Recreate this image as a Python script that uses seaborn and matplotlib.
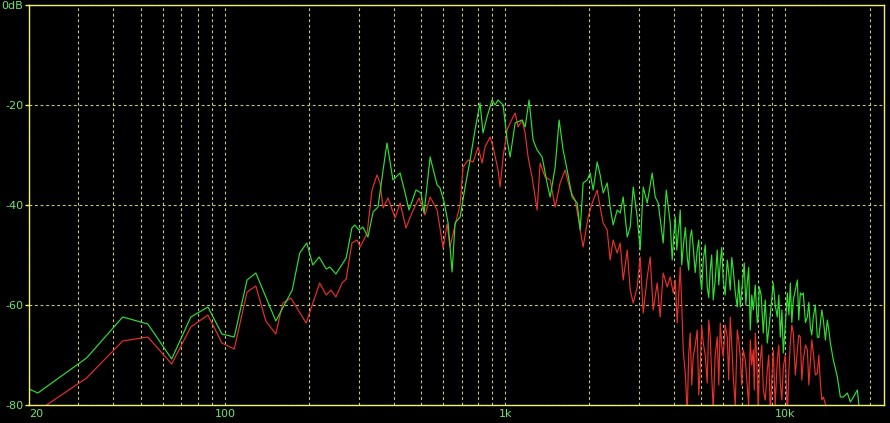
import numpy as np
import pandas as pd
import matplotlib
matplotlib.use("Agg")
import matplotlib.pyplot as plt
import seaborn as sns

# frequency (Hz) / level (dB)
freq_green = [20, 21.5, 32.1, 43.2, 53.1, 64.6, 75.6, 87.0, 97.6, 108, 120, 129, 152, 174,
              185, 196, 206, 217, 230, 237, 249, 271, 284, 291, 301, 311, 324, 338, 352, 367,
              379, 398, 422, 439, 454, 481, 501, 514, 540, 572, 586, 606, 626, 647, 663, 691,
              720, 750, 781, 814, 834, 862, 899, 921, 944, 984, 1017, 1042, 1086, 1150, 1179,
              1218, 1259, 1301, 1356, 1412, 1448, 1509, 1559, 1611, 1665, 1735, 1808, 1853,
              1899, 1963, 2012, 2062, 2131, 2184, 2239, 2314, 2371, 2430, 2512, 2575, 2639,
              2728, 2796, 2866, 2961, 3035, 3111, 3215, 3350, 3433, 3519, 3666, 3759, 3884,
              3948, 4047, 4148, 4217, 4322, 4467, 4578, 4692, 4849, 4971, 5095, 5265, 5397,
              5532, 5716, 5859, 6005, 6206, 6361, 6520, 6738, 6906, 7137, 7316, 7499, 7686,
              7943, 8074, 8345, 8624, 8986, 9060, 9363, 9597, 9837, 10170, 10420, 10680,
              11040, 11310, 11590, 11990, 12280, 12590, 13010, 13340, 13670, 14120, 14480,
              14840, 15340, 15720, 16110, 16650, 17070, 17500, 18080, 18530]
db_green = [-76.8, -77.6, -70.6, -62.4, -63.8, -70.8, -62.4, -60.4, -65.8, -66.4, -55.0, -53.6,
            -63.2, -57.0, -49.6, -47.6, -52.0, -50.4, -52.8, -52.4, -53.8, -50.6, -44.6, -44.0,
            -45.0, -44.4, -46.4, -41.4, -40.4, -33.0, -27.6, -35.0, -33.6, -37.4, -41.0, -37.0,
            -37.6, -41.6, -30.4, -36.0, -36.6, -39.4, -43.6, -53.4, -43.6, -42.4, -36.4, -31.0,
            -25.0, -19.6, -25.6, -22.4, -19.0, -20.0, -19.0, -20.0, -27.0, -30.4, -23.6, -23.0,
            -24.4, -19.0, -27.0, -29.0, -30.4, -35.6, -38.4, -32.4, -23.0, -29.0, -33.0, -38.4,
            -39.6, -45.0, -35.6, -35.0, -33.6, -37.0, -31.4, -34.0, -37.6, -35.6, -40.4, -44.0,
            -41.0, -41.6, -38.4, -46.4, -44.4, -36.4, -42.4, -49.0, -36.4, -39.6, -33.6, -38.4,
            -39.6, -47.6, -37.0, -43.6, -51.0, -42.4, -45.6, -41.0, -48.4, -50.4, -46.4, -48.4,
            -49.0, -54.4, -51.0, -56.4, -53.0, -59.0, -49.0, -51.6, -55.0, -51.0, -57.0, -53.0,
            -60.4, -60.4, -51.6, -55.6, -65.0, -61.0, -63.6, -56.4, -65.6, -67.6, -57.6, -55.6,
            -62.4, -66.4, -69.6, -57.6, -55.6, -59.0, -55.0, -57.6, -57.6, -62.4, -64.4, -62.4,
            -66.4, -63.6, -63.0, -63.0, -67.6, -71.0, -74.4, -78.4, -78.4, -77.6, -79.4, -78.4,
            -77.0, -83.0]
# extra wiggles in the dense top-octave part of the green trace
freq_green_hf = [3990, 4100, 4180, 4270, 4400, 4520, 4630, 4770, 4910, 5030, 5180, 5330, 5460,
                 5620, 5790, 5930, 6100, 6280, 6440, 6630, 6820, 7020, 7230, 7400, 7590, 7810,
                 8010, 8200, 8480, 8800, 9200, 9480, 9720, 10000, 10300, 10550, 10860, 11170,
                 11450, 11800, 12130, 12430, 12800, 13170, 13500, 13900, 14300]
db_green_hf = [-47.0, -49.0, -44.0, -52.0, -44.5, -53.0, -45.0, -53.5, -47.0, -57.0, -48.0,
               -58.5, -50.0, -55.0, -56.0, -48.5, -58.0, -53.5, -50.5, -57.5, -55.0, -56.0,
               -60.0, -52.5, -58.0, -56.0, -62.0, -58.0, -59.0, -63.0, -60.0, -58.0, -61.0,
               -64.0, -62.0, -63.5, -57.0, -63.0, -58.0, -63.5, -59.5, -66.0, -60.0, -66.5,
               -61.0, -67.0, -65.0]

freq_red = [20, 23.1, 32.1, 43.2, 53.1, 64.6, 75.6, 87.0, 97.6, 108, 120, 129, 140, 152, 161,
            172, 195, 218, 230, 239, 249, 262, 271, 284, 296, 304, 322, 335, 349, 358, 367, 382,
            405, 422, 443, 465, 493, 518, 540, 572, 601, 621, 636, 663, 691, 708, 738, 769, 801,
            828, 848, 884, 906, 944, 960, 984, 1017, 1042, 1086, 1113, 1150, 1179, 1208, 1248,
            1301, 1334, 1389, 1448, 1509, 1572, 1638, 1707, 1778, 1822, 1899, 1979, 2045, 2131,
            2184, 2239, 2314, 2371, 2430, 2512, 2575, 2639, 2728, 2796, 2866, 2961, 3035, 3111,
            3215, 3295, 3377, 3490, 3577, 3666, 3790, 3884, 3981, 4114, 4217, 4322, 4467, 4578,
            4692, 4849, 4971, 5095, 5265, 5397, 5532, 5716, 5859, 6005, 6206, 6361, 6520, 6738,
            6906, 7079, 7316, 7499, 7686, 7813, 8008, 8141, 8345, 8624, 8839, 9060, 9363, 9597,
            9837, 10170, 10420, 10680, 11040, 11310, 11590, 11990, 12280, 12590, 13010, 13340,
            13670, 14120, 14840]
db_red = [-82.4, -80.0, -74.6, -67.2, -66.4, -71.8, -64.4, -62.0, -67.6, -68.8, -57.4, -56.2,
          -63.2, -65.8, -59.6, -58.6, -63.6, -55.6, -58.0, -57.0, -58.4, -55.6, -54.8, -47.6,
          -47.0, -48.4, -45.6, -37.0, -34.0, -35.6, -40.6, -38.6, -42.6, -39.6, -44.6, -41.6,
          -38.6, -42.0, -38.4, -41.0, -48.6, -43.8, -48.4, -44.0, -40.0, -32.4, -31.0, -31.4,
          -28.4, -31.6, -28.4, -26.4, -28.4, -33.0, -36.4, -30.4, -25.0, -23.6, -21.6, -24.4,
          -23.0, -25.6, -30.4, -34.4, -41.0, -31.6, -34.4, -35.0, -40.4, -35.6, -33.0, -37.0,
          -39.0, -42.4, -48.4, -42.4, -39.6, -37.0, -40.4, -43.6, -45.0, -51.0, -47.0, -49.6,
          -47.6, -55.0, -49.0, -57.0, -59.6, -56.4, -50.4, -61.6, -54.4, -50.4, -61.0, -55.6,
          -62.4, -53.6, -56.4, -54.4, -57.6, -63.6, -52.4, -69.0, -82.0, -65.6, -70.4, -65.0,
          -72.4, -67.6, -75.6, -66.4, -81.0, -66.4, -63.6, -70.4, -66.4, -62.4, -74.4, -65.0,
          -70.4, -69.0, -76.4, -67.0, -69.0, -65.6, -81.0, -71.0, -77.0, -73.0, -82.0, -69.0,
          -71.0, -75.6, -72.4, -82.0, -67.6, -65.6, -69.0, -66.4, -71.0, -69.0, -71.6, -69.6,
          -73.6, -75.6, -78.4, -81.0, -83.0]
freq_red_hf = [4050, 4165, 4270, 4400, 4520, 4635, 4770, 4910, 5030, 5180, 5330, 5460, 5620,
               5790, 5930, 6100, 6280, 6440, 6630, 6820, 6990, 7200, 7400, 7590, 7750, 7900,
               8070, 8240, 8480, 8730, 8950, 9200, 9480, 9720, 10000, 10300, 10550, 10860,
               11170, 11450, 11800, 12130, 12430, 12800, 13170, 13500]
db_red_hf = [-55.0, -58.0, -60.0, -74.0, -70.0, -76.0, -68.0, -78.0, -64.0, -70.0, -63.0,
             -74.0, -70.0, -76.0, -68.0, -64.0, -75.0, -68.0, -80.0, -67.0, -76.0, -71.0,
             -80.0, -72.0, -77.0, -70.0, -74.0, -68.0, -79.0, -70.0, -75.0, -80.0, -68.0,
             -79.0, -70.0, -73.0, -64.0, -74.0, -66.0, -75.0, -68.0, -76.0, -67.0, -74.0,
             -70.0, -79.0]

x_major = [20, 100, 1000, 10000]
x_major_labels = ["20", "100", "1k", "10k"]
x_minor = [30, 40, 50, 60, 70, 80, 90, 200, 300, 400, 500, 600, 700, 800, 900,
           2000, 3000, 4000, 5000, 6000, 7000, 8000, 9000, 20000]
y_ticks = [0, -20, -40, -60, -80]
y_labels = ["0dB", "-20", "-40", "-60", "-80"]

green_df = pd.DataFrame({"Hz": freq_green + freq_green_hf, "dB": db_green + db_green_hf})
red_df = pd.DataFrame({"Hz": freq_red + freq_red_hf, "dB": db_red + db_red_hf})
green_df = green_df.sort_values("Hz")
red_df = red_df.sort_values("Hz")

sns.set_style("dark", {"axes.facecolor": "black", "figure.facecolor": "black"})

frame_col = "#f0f07a"
grid_col = "#c8c884"
text_col = "#6ee66e"

fig = plt.figure(figsize=(8.9, 4.23), dpi=100)
ax = fig.add_axes([29 / 890, 18 / 423, 855 / 890, 400 / 423])
ax.set_facecolor("black")

sns.lineplot(data=red_df, x="Hz", y="dB", ax=ax, color="#e8302a", linewidth=0.85,
             estimator=None, errorbar=None)
sns.lineplot(data=green_df, x="Hz", y="dB", ax=ax, color="#2fe02f", linewidth=0.85,
             estimator=None, errorbar=None)

ax.set_xscale("log")
ax.set_xlim(20, 22500)
ax.set_ylim(-80, 0)

ax.set_xticks(x_major)
ax.set_xticklabels(x_major_labels)
ax.set_xticks(x_minor, minor=True)
ax.set_xticklabels([], minor=True)
ax.set_yticks(y_ticks)
ax.set_yticklabels(y_labels)
ax.xaxis.get_ticklabels()[0].set_ha("left")

ax.set_axisbelow(True)
ax.grid(True, which="both", axis="x", color=grid_col, linestyle=(0, (2.5, 2.5)), linewidth=0.8)
ax.grid(True, which="major", axis="y", color=grid_col, linestyle=(0, (2.5, 2.5)), linewidth=0.8)

ax.tick_params(axis="x", which="both", length=0, pad=3, colors=text_col, labelsize=8)
ax.tick_params(axis="y", length=3, width=1, pad=1, color=frame_col, labelcolor=text_col,
               labelsize=8, left=True)
for s in ax.spines.values():
    s.set_visible(True)
    s.set_color(frame_col)
    s.set_linewidth(1.0)

ax.set_xlabel("")
ax.set_ylabel("")

plt.savefig("out.png", dpi=100, facecolor="black")
